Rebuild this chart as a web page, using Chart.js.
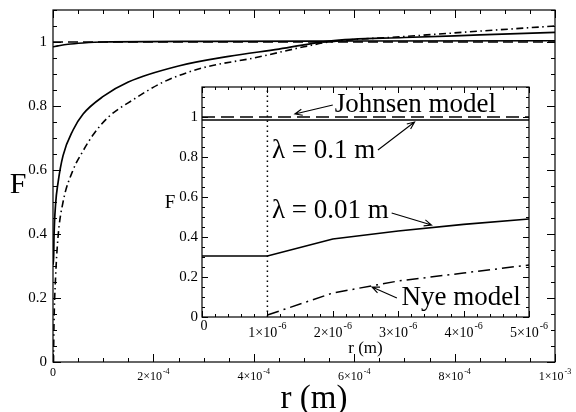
<!DOCTYPE html>
<html>
<head>
<meta charset="utf-8">
<script src="https://cdn.jsdelivr.net/npm/chart.js@4.4.0/dist/chart.umd.min.js"></script>
<style>
  html, body { margin: 0; padding: 0; background: #fff; }
  #wrap { position: relative; width: 576px; height: 412px; }
  #main { position: absolute; left: 0; top: 0; }
  #inset { position: absolute; left: 150px; top: 78px; }
</style>
</head>
<body>
<div id="wrap">
  <canvas id="main" width="576" height="412"></canvas>
  <canvas id="inset" width="410" height="290"></canvas>
</div>
<script>
// ---- main plot data (r in metres) ----
const johnsenR = [0, 1e-3];
const johnsenF = [1.0, 1.0];

const thinR = [0, 1e-5, 3e-5, 6e-5, 1e-4, 3e-4, 6e-4, 1e-3];        // lambda = 0.1 m
const thinF = [0.985, 0.988, 0.993, 0.997, 1.0, 1.002, 1.003, 1.004];

const thickR = [0, 1e-6, 2e-6, 5e-6, 1e-5, 2e-5, 4e-5, 6e-5, 1e-4, 1.5e-4, 2.5e-4, 3.5e-4, 4.5e-4, 5.5e-4, 7e-4, 8.5e-4, 1e-3]; // lambda = 0.01 m
const thickF = [0.305, 0.305, 0.39, 0.49, 0.56, 0.645, 0.725, 0.775, 0.83, 0.875, 0.925, 0.955, 0.978, 1.003, 1.014, 1.022, 1.03];

const nyeR = [1e-6, 2e-6, 5e-6, 1e-5, 2e-5, 4e-5, 6e-5, 8e-5, 1.1e-4, 1.6e-4, 2.2e-4, 3e-4, 4e-4, 5e-4, 5.5e-4, 7e-4, 8.5e-4, 1e-3];
const nyeF = [0.0, 0.12, 0.26, 0.39, 0.5, 0.6, 0.66, 0.71, 0.765, 0.82, 0.875, 0.92, 0.95, 0.985, 1.0, 1.017, 1.034, 1.05];

const mainXTicks = [0, 2e-4, 4e-4, 6e-4, 8e-4, 1e-3];
const mainXLabels = ['0', '2×10^-4', '4×10^-4', '6×10^-4', '8×10^-4', '1×10^-3'];
const mainYTicks = [0, 0.2, 0.4, 0.6, 0.8, 1];
const mainYLabels = ['0', '0.2', '0.4', '0.6', '0.8', '1'];

// ---- inset data ----
const insetR = [0, 1e-6, 2e-6, 3e-6, 4e-6, 5e-6];
const insetJohnsen = [1.0, 1.0, 1.0, 1.0, 1.0, 1.0];
const insetThin = [0.985, 0.985, 0.985, 0.985, 0.985, 0.985];
const insetThick = [0.305, 0.305, 0.39, 0.43, 0.463, 0.49];
const insetNyeR = [1e-6, 2e-6, 3e-6, 4e-6, 5e-6];
const insetNye = [0.01, 0.12, 0.18, 0.22, 0.26];
const dotR = [1e-6, 1e-6];
const dotF = [0, 1.15];

const insetXTicks = [0, 1e-6, 2e-6, 3e-6, 4e-6, 5e-6];
const insetXLabels = ['0', '1×10^-6', '2×10^-6', '3×10^-6', '4×10^-6', '5×10^-6'];
const insetYTicks = [0, 0.2, 0.4, 0.6, 0.8, 1];
const insetYLabels = ['0', '0.2', '0.4', '0.6', '0.8', '1'];

// labels inside the inset, in inset data coordinates
const noteText = ['Johnsen model', 'λ = 0.1 m', 'λ = 0.01 m', 'Nye model'];
const noteX = [2.03e-6, 1.07e-6, 1.07e-6, 3.05e-6];
const noteY = [1.025, 0.795, 0.495, 0.06];
const arrowFrom = [[2.0e-6, 1.06], [2.69e-6, 0.835], [2.9e-6, 0.52], [2.98e-6, 0.095]];
const arrowTo = [[1.42e-6, 1.015], [3.25e-6, 0.975], [3.51e-6, 0.46], [2.6e-6, 0.15]];

const SERIF = '"Liberation Serif", "Times New Roman", serif';

function pts(xs, ys) {
    return xs.map((x, i) => ({ x: x, y: ys[i] }));
}

function line(xs, ys, dash, w, smooth) {
    const ds = {
        data: pts(xs, ys),
        borderColor: '#000',
        borderWidth: w,
        borderDash: dash,
        pointRadius: 0,
        fill: false,
        tension: 0
    };
    if (smooth) ds.cubicInterpolationMode = 'monotone';
    return ds;
}

// text with optional exponent written as "base^exp"
function txt(ctx, s, x, y, size, align, base) {
    const parts = s.split('^');
    const es = Math.round(size * 0.68);
    ctx.font = size + 'px ' + SERIF;
    const w1 = ctx.measureText(parts[0]).width;
    let w2 = 0;
    if (parts[1]) {
        ctx.font = es + 'px ' + SERIF;
        w2 = ctx.measureText(parts[1]).width + 1;
    }
    let x0 = x;
    if (align === 'center') x0 = x - (w1 + w2) / 2;
    if (align === 'right') x0 = x - w1 - w2;
    ctx.textAlign = 'left';
    ctx.textBaseline = base || 'middle';
    ctx.fillStyle = '#000';
    ctx.font = size + 'px ' + SERIF;
    ctx.fillText(parts[0], x0, y);
    if (parts[1]) {
        ctx.font = es + 'px ' + SERIF;
        ctx.fillText(parts[1], x0 + w1 + 1, y - size * 0.45);
    }
}

// frame with inward ticks on all four sides
function boxTicks(chart, xTicks, yTicks, xMinor, yMinor, major, minor) {
    const { ctx, chartArea: a, scales: { x, y } } = chart;
    ctx.save();
    ctx.strokeStyle = '#000';
    ctx.lineWidth = 1.2;
    ctx.strokeRect(a.left, a.top, a.right - a.left, a.bottom - a.top);
    ctx.lineWidth = 1;
    ctx.beginPath();
    const nx = Math.round((x.max - x.min) / xMinor);
    for (let i = 0; i <= nx; i++) {
        const v = x.min + i * xMinor;
        const len = xTicks.some(t => Math.abs(t - v) < xMinor / 10) ? major : minor;
        const px = Math.round(x.getPixelForValue(v)) + 0.5;
        ctx.moveTo(px, a.bottom); ctx.lineTo(px, a.bottom - len);
        ctx.moveTo(px, a.top); ctx.lineTo(px, a.top + len);
    }
    const ny = Math.floor((y.max - y.min) / yMinor + 1e-6);
    for (let i = 0; i <= ny; i++) {
        const v = y.min + i * yMinor;
        const len = yTicks.some(t => Math.abs(t - v) < yMinor / 10) ? major : minor;
        const py = Math.round(y.getPixelForValue(v)) + 0.5;
        ctx.moveTo(a.left, py); ctx.lineTo(a.left + len, py);
        ctx.moveTo(a.right, py); ctx.lineTo(a.right - len, py);
    }
    ctx.stroke();
    ctx.restore();
}

function arrow(ctx, x1, y1, x2, y2) {
    const ang = Math.atan2(y2 - y1, x2 - x1);
    ctx.save();
    ctx.strokeStyle = '#000';
    ctx.lineWidth = 1.1;
    ctx.beginPath();
    ctx.moveTo(x1, y1);
    ctx.lineTo(x2, y2);
    ctx.moveTo(x2 - 8 * Math.cos(ang - 0.4), y2 - 8 * Math.sin(ang - 0.4));
    ctx.lineTo(x2, y2);
    ctx.lineTo(x2 - 8 * Math.cos(ang + 0.4), y2 - 8 * Math.sin(ang + 0.4));
    ctx.stroke();
    ctx.restore();
}

const mainDeco = {
    id: 'mainDeco',
    afterDraw(chart) {
        const { ctx, chartArea: a, scales: { x, y } } = chart;
        boxTicks(chart, mainXTicks, mainYTicks, 5e-5, 0.05, 8, 4);
        mainXTicks.forEach((v, i) => {
            const s = mainXLabels[i];
            txt(ctx, s, x.getPixelForValue(v), a.bottom + (s.includes('^') ? 15 : 11), 12, 'center');
        });
        mainYTicks.forEach((v, i) => {
            txt(ctx, mainYLabels[i], a.left - 6, y.getPixelForValue(v), 15, 'right');
        });
        txt(ctx, 'r (m)', (a.left + a.right) / 2 + 10, a.bottom + 37, 33, 'center');
        txt(ctx, 'F', 18, 185, 30, 'center');
    }
};

const insetDeco = {
    id: 'insetDeco',
    beforeDatasetsDraw(chart) {
        const { ctx, chartArea: a } = chart;
        ctx.save();
        ctx.fillStyle = '#fff';
        ctx.fillRect(a.left, a.top, a.right - a.left, a.bottom - a.top);
        ctx.restore();
    },
    afterDraw(chart) {
        const { ctx, chartArea: a, scales: { x, y } } = chart;
        boxTicks(chart, insetXTicks, insetYTicks, 2e-7, 0.05, 6, 3);
        insetXTicks.forEach((v, i) => {
            const s = insetXLabels[i];
            txt(ctx, s, x.getPixelForValue(v) + (i === 0 ? 2 : 0), a.bottom + (s.includes('^') ? 16 : 9), 14, 'center');
        });
        insetYTicks.forEach((v, i) => {
            txt(ctx, insetYLabels[i], a.left - 4, y.getPixelForValue(v), 15, 'right');
        });
        txt(ctx, 'r (m)', (a.left + a.right) / 2, a.bottom + 32, 17, 'center');
        txt(ctx, 'F', a.left - 32, y.getPixelForValue(0.57), 19, 'center');
        noteText.forEach((s, i) => {
            txt(ctx, s, x.getPixelForValue(noteX[i]), y.getPixelForValue(noteY[i]), 27, 'left', 'alphabetic');
            arrow(ctx, x.getPixelForValue(arrowFrom[i][0]), y.getPixelForValue(arrowFrom[i][1]),
                x.getPixelForValue(arrowTo[i][0]), y.getPixelForValue(arrowTo[i][1]));
        });
    }
};

const hidden = { grid: { display: false }, border: { display: false }, ticks: { display: false } };

new Chart(document.getElementById('main'), {
    type: 'line',
    data: {
        datasets: [
            line(johnsenR, johnsenF, [10, 5], 1.6, true),
            line(thinR, thinF, [], 1.6, true),
            line(thickR, thickF, [], 1.7, true),
            line(nyeR, nyeF, [7, 3.5, 1.5, 3.5], 1.6, true)
        ]
    },
    options: {
        responsive: false,
        animation: false,
        layout: { padding: { top: 10, right: 21, left: 0, bottom: 0 } },
        plugins: { legend: { display: false }, tooltip: { enabled: false } },
        scales: {
            x: { type: 'linear', min: 0, max: 1e-3, ...hidden, afterFit(s) { s.height = 50; } },
            y: { type: 'linear', min: 0, max: 1.1, ...hidden, afterFit(s) { s.width = 53; } }
        }
    },
    plugins: [mainDeco]
});

// the inset is drawn with straight segments between the sampled points
new Chart(document.getElementById('inset'), {
    type: 'line',
    data: {
        datasets: [
            line(dotR, dotF, [1.5, 3.5], 1.5, false),
            line(insetR, insetJohnsen, [13, 6], 1.5, false),
            line(insetR, insetThin, [], 1.6, false),
            line(insetR, insetThick, [], 1.7, false),
            line(insetNyeR, insetNye, [12, 5, 2, 5], 1.5, false)
        ]
    },
    options: {
        responsive: false,
        animation: false,
        layout: { padding: { top: 9, right: 31, left: 0, bottom: 0 } },
        plugins: { legend: { display: false }, tooltip: { enabled: false } },
        scales: {
            x: { type: 'linear', min: 0, max: 5e-6, ...hidden, afterFit(s) { s.height = 51; } },
            y: { type: 'linear', min: 0, max: 1.15, ...hidden, afterFit(s) { s.width = 52; } }
        }
    },
    plugins: [insetDeco]
});
</script>
</body>
</html>
